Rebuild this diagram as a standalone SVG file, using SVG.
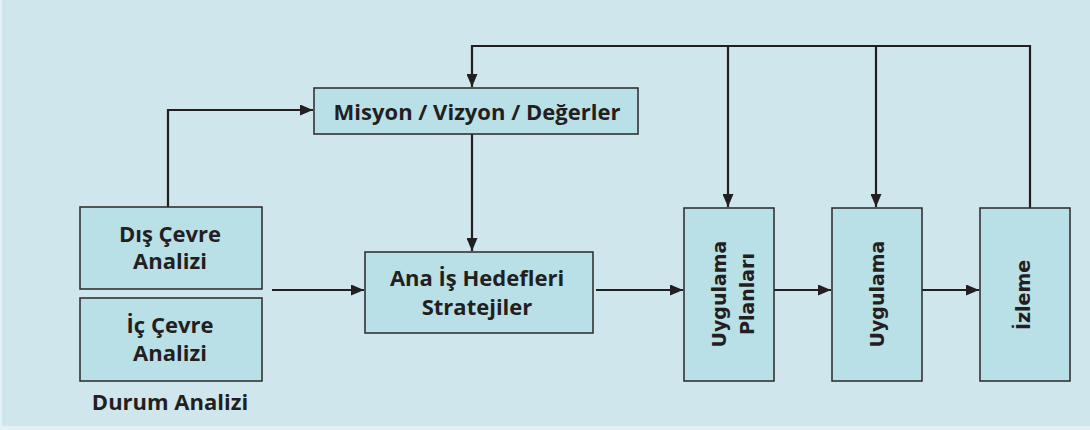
<svg xmlns="http://www.w3.org/2000/svg" width="1090" height="430" viewBox="0 0 1090 430">
  <defs>
    <marker id="arrow" viewBox="0 0 13 11" refX="13" refY="5.5" markerWidth="13" markerHeight="11" markerUnits="userSpaceOnUse" orient="auto">
      <path d="M0,0 L13,5.5 L0,11 z" fill="#231f20"/>
    </marker>
    <style>
      .box { fill: #b9dfe7; stroke: #333333; stroke-width: 1.6; }
      .lbl { font-family: "Open Sans", "Liberation Sans", sans-serif; font-weight: bold; font-size: 22px; fill: #231f20; text-anchor: middle; }
      .vlbl { font-family: "DejaVu Sans", "Liberation Sans", sans-serif; font-weight: bold; font-size: 19px; fill: #231f20; text-anchor: middle; }
      .wire { fill: none; stroke: #231f20; stroke-width: 2.2; }
    </style>
  </defs>

  <!-- backdrop -->
  <rect x="0" y="0" width="1090" height="430" fill="#cfe6ec"/>
  <rect x="0" y="426" width="1090" height="4" fill="#e3f1f4"/>
  <rect x="0" y="0" width="2" height="426" fill="#e3f1f4"/>

  <!-- connectors -->
  <g id="connectors">
    <polyline class="wire" points="168,207 168,110 313,110" marker-end="url(#arrow)"/>
    <polyline class="wire" points="1030,208 1030,46 472,46 472,87" marker-end="url(#arrow)"/>
    <line class="wire" x1="728" y1="46" x2="728" y2="207" marker-end="url(#arrow)"/>
    <line class="wire" x1="876" y1="46" x2="876" y2="207" marker-end="url(#arrow)"/>
    <line class="wire" x1="472" y1="134" x2="472" y2="251" marker-end="url(#arrow)"/>
    <line class="wire" x1="272" y1="290" x2="364" y2="290" marker-end="url(#arrow)"/>
    <line class="wire" x1="596" y1="290" x2="683" y2="290" marker-end="url(#arrow)"/>
    <line class="wire" x1="774" y1="290" x2="831" y2="290" marker-end="url(#arrow)"/>
    <line class="wire" x1="922" y1="290" x2="979" y2="290" marker-end="url(#arrow)"/>
  </g>

  <g id="misyon">
    <rect class="box" x="314" y="88" width="324" height="46"/>
    <text class="lbl" x="477" y="120">Misyon / Vizyon / Değerler</text>
  </g>

  <g id="dis-cevre">
    <rect class="box" x="80" y="207" width="182" height="82"/>
    <text class="lbl" x="170" y="242">Dış Çevre</text>
    <text class="lbl" x="170" y="269">Analizi</text>
  </g>

  <g id="ic-cevre">
    <rect class="box" x="80" y="298" width="182" height="83"/>
    <text class="lbl" x="170" y="333">İç Çevre</text>
    <text class="lbl" x="170" y="361">Analizi</text>
  </g>

  <g id="durum">
    <text class="lbl" x="170" y="410">Durum Analizi</text>
  </g>

  <g id="hedefler">
    <rect class="box" x="365" y="252" width="228" height="81"/>
    <text class="lbl" x="477" y="286">Ana İş Hedefleri</text>
    <text class="lbl" x="477" y="315">Stratejiler</text>
  </g>

  <g id="uygulama-planlari">
    <rect class="box" x="684" y="208" width="90" height="173"/>
    <text class="vlbl" transform="translate(726,294) rotate(-90)">Uygulama</text>
    <text class="vlbl" transform="translate(754,294) rotate(-90)">Planları</text>
  </g>

  <g id="uygulama">
    <rect class="box" x="832" y="208" width="90" height="173"/>
    <text class="vlbl" transform="translate(884,294) rotate(-90)">Uygulama</text>
  </g>

  <g id="izleme">
    <rect class="box" x="980" y="208" width="90" height="173"/>
    <text class="vlbl" transform="translate(1030,295) rotate(-90)">İzleme</text>
  </g>
</svg>
